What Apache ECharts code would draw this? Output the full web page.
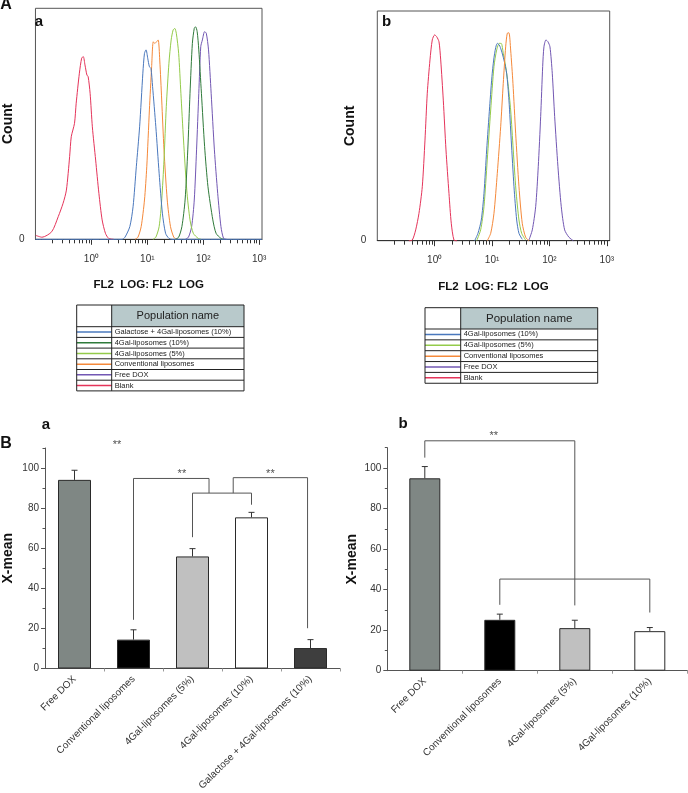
<!DOCTYPE html>
<html><head><meta charset="utf-8">
<script src="https://cdn.jsdelivr.net/npm/echarts@6/dist/echarts.min.js"></script>
<style>html,body{margin:0;padding:0;background:#fff}#c{width:688px;height:793px}</style>
</head><body><div id="c"></div>
<script>
// ================= DATA =================
// Panel A: flow-cytometry histograms. Points are [log10(FL2 LOG), count as % of frame height]
// --- A(a)
const histA_blank = [[-0.995,1.7],[-0.883,0.9],[-0.709,3.3],[-0.593,9.8],[-0.506,15.6],[-0.447,21.3],[-0.389,35.8],[-0.360,44.4],[-0.302,50.2],[-0.272,58.9],[-0.215,71.9],[-0.174,78.4],[-0.145,79.1],[-0.115,75.5],[-0.080,71.1],[-0.058,70.4],[-0.023,63.2],[0.017,48.7],[0.076,34.3],[0.134,19.9],[0.192,8.4],[0.251,2.6],[0.309,0.4],[0.40,0]];
const histA_freeDox = [[1.68,0],[1.735,0.9],[1.792,5.5],[1.839,17.0],[1.880,38.7],[1.920,63.2],[1.955,83.4],[1.984,86.3],[2.024,89.9],[2.054,89.2],[2.094,82.0],[2.141,63.2],[2.199,38.7],[2.258,19.9],[2.316,5.5],[2.363,0.4],[2.42,0]];
const histA_conventional = [[0.78,0],[0.832,0.9],[0.890,5.5],[0.949,17.0],[0.990,31.4],[1.037,56.0],[1.077,74.7],[1.106,85.5],[1.134,84.8],[1.164,85.5],[1.194,86.3],[1.222,77.6],[1.257,60.3],[1.298,38.7],[1.356,17.0],[1.414,5.5],[1.473,0.9],[1.52,0]];
const histA_gal5 = [[1.10,0],[1.152,0.9],[1.211,5.5],[1.257,17.0],[1.298,34.3],[1.339,57.4],[1.386,76.2],[1.426,86.3],[1.461,90.6],[1.490,91.3],[1.518,89.2],[1.560,80.5],[1.600,63.2],[1.647,43.0],[1.705,21.3],[1.763,8.4],[1.822,2.6],[1.909,0.4],[1.96,0]];
const histA_gal10 = [[1.50,0],[1.560,0.9],[1.618,5.5],[1.675,17.0],[1.723,38.7],[1.763,63.2],[1.805,84.8],[1.839,91.3],[1.862,92.0],[1.891,89.9],[1.920,82.0],[1.967,63.2],[2.024,40.1],[2.084,22.8],[2.171,8.4],[2.229,2.6],[2.316,0.4],[2.37,0]];
const histA_galactose = [[-1.0,0],[0.55,0],[0.600,0.9],[0.687,5.5],[0.745,14.1],[0.803,31.4],[0.862,48.7],[0.920,71.9],[0.949,80.5],[0.977,82.0],[1.007,78.4],[1.037,74.7],[1.065,74.0],[1.094,66.1],[1.152,48.7],[1.211,28.6],[1.269,11.3],[1.326,2.6],[1.386,0.4],[1.44,0],[3.05,0]];
// --- A(b)
const histB_blank = [[-0.45,0],[-0.390,0.3],[-0.331,4.7],[-0.274,11.9],[-0.216,23.5],[-0.169,43.8],[-0.129,64.2],[-0.082,78.7],[-0.042,87.4],[0.000,89.6],[0.035,88.8],[0.075,86.6],[0.105,78.7],[0.150,61.2],[0.197,39.5],[0.249,20.6],[0.289,7.6],[0.336,0.3],[0.39,0]];
const histB_freeDox = [[1.643,0.3],[1.701,4.7],[1.760,14.8],[1.805,32.2],[1.847,54.0],[1.882,75.8],[1.904,84.4],[1.939,87.4],[1.974,86.6],[2.009,84.4],[2.049,72.9],[2.091,54.0],[2.148,32.2],[2.206,14.8],[2.265,4.7],[2.340,1.5],[2.415,0]];
const histB_conventional = [[0.916,0],[0.976,3.2],[1.033,11.9],[1.091,29.3],[1.150,49.6],[1.195,68.5],[1.237,84.4],[1.265,90.3],[1.294,90.5],[1.324,83.0],[1.364,68.5],[1.411,46.8],[1.469,23.5],[1.526,7.6],[1.585,1.5],[1.643,0]];
const histB_gal5 = [[0.732,0],[0.801,4.7],[0.859,14.8],[0.916,35.1],[0.976,56.9],[1.033,75.8],[1.080,83.0],[1.126,85.9],[1.160,85.9],[1.195,81.6],[1.237,75.8],[1.277,68.5],[1.324,56.9],[1.369,39.5],[1.416,22.1],[1.469,9.0],[1.516,3.2],[1.585,0.3]];
const histB_gal10 = [[0.697,0],[0.754,3.2],[0.812,9.0],[0.859,20.6],[0.906,39.5],[0.958,58.3],[1.003,72.9],[1.045,81.6],[1.091,85.9],[1.126,85.2],[1.160,83.0],[1.207,78.7],[1.254,72.9],[1.294,61.2],[1.334,43.8],[1.382,23.5],[1.429,9.0],[1.469,3.2],[1.526,0.6]];

// Histogram axis (log10 decades) tick labels
const histDecades = [0, 1, 2, 3];
const histDecadeLabels = ['10\u2070', '10\u00B9', '10\u00B2', '10\u00B3'];

// Legend tables (population names)
const legendA_names = ['Galactose + 4Gal-liposomes (10%)', '4Gal-liposomes (10%)', '4Gal-liposomes (5%)', 'Conventional liposomes', 'Free DOX', 'Blank'];
const legendB_names = ['4Gal-liposomes (10%)', '4Gal-liposomes (5%)', 'Conventional liposomes', 'Free DOX', 'Blank'];

// Panel B: X-mean bar charts
const barA_categories = ['Free DOX', 'Conventional liposomes', '4Gal-liposomes (5%)', '4Gal-liposomes (10%)', 'Galactose + 4Gal-liposomes (10%)'];
const barA_values = [94.1, 14.4, 55.9, 75.4, 10.2];
const barA_errors = [4.8, 4.9, 3.9, 2.5, 4.2];
const barB_categories = ['Free DOX', 'Conventional liposomes', '4Gal-liposomes (5%)', '4Gal-liposomes (10%)'];
const barB_values = [94.9, 25.1, 21.0, 19.5];
const barB_errors = [5.8, 2.8, 3.9, 1.8];
const barTicks = [0, 20, 40, 60, 80, 100];
const barMinorTicks = [10, 30, 50, 70, 90, 110];

// Significance brackets: [category position, X-mean]
const bracketsA = [
  [[1, 24.3], [1, 94.8], [2.28, 94.8], [2.28, 87.5]],
  [[2, 65.5], [2, 87.5], [3, 87.5], [3, 81.7]],
  [[2.69, 87.5], [2.69, 95.2], [3.95, 95.2], [3.95, 20.1]]
];
const starsA = [[0.72, 112.7], [1.82, 97.9], [3.32, 97.9]];
const bracketsB = [
  [[0, 105.1], [0, 113.4], [2, 113.4], [2, 32.2]],
  [[1, 32.5], [1, 45.2], [3, 45.2], [3, 28.7]]
];
const starsB = [[0.92, 116.7]];

// ================= STYLE =================
const FONT = '"Liberation Sans", Arial, Helvetica, sans-serif';
const C = { blue: '#4a78bd', dkgreen: '#2f7a3a', ltgreen: '#94cb4a', orange: '#f5893a', purple: '#7257b3', red: '#e5345a' };
const legendA_colors = [C.blue, C.dkgreen, C.ltgreen, C.orange, C.purple, C.red];
const legendB_colors = [C.blue, C.ltgreen, C.orange, C.purple, C.red];
const barA_colors = ['#7f8784', '#000000', '#c0c0c0', '#ffffff', '#3e3e3e'];
const barB_colors = ['#7f8784', '#000000', '#c0c0c0', '#ffffff'];

const histMinor = [];
for (let d = -1; d < 3; d++) for (let k = 2; k <= 9; k++) histMinor.push(d + Math.log10(k));

function histX(grid, major) {
  if (major) {
    return {
      gridIndex: grid, type: 'value', min: -1, max: 3.05, position: 'bottom',
      axisLine: { onZero: false, lineStyle: { color: '#333', width: 1 } },
      axisTick: { customValues: histDecades, length: 5.5, lineStyle: { color: '#333' } },
      axisLabel: { customValues: histDecades, formatter: v => histDecadeLabels[histDecades.indexOf(Math.round(v))], fontSize: 10, color: '#333', margin: 15, fontFamily: FONT },
      splitLine: { show: false },
      name: 'FL2  LOG: FL2  LOG', nameLocation: 'middle', nameGap: 40,
      nameTextStyle: { fontSize: 11.5, fontWeight: 'bold', color: '#111', fontFamily: FONT }
    };
  }
  return {
    gridIndex: grid, type: 'value', min: -1, max: 3.05, position: 'bottom',
    axisLine: { show: false, onZero: false },
    axisTick: { customValues: histMinor, length: 4, lineStyle: { color: '#333' } },
    axisLabel: { show: false }, splitLine: { show: false }
  };
}
function histY(grid, gap) {
  return {
    gridIndex: grid, type: 'value', min: 0, max: 100, position: 'left',
    axisLine: { show: false, onZero: false }, axisTick: { show: false },
    axisLabel: { customValues: [0], fontSize: 10, color: '#333', margin: 11, fontFamily: FONT },
    splitLine: { show: false },
    name: 'Count', nameLocation: 'middle', nameGap: gap,
    nameTextStyle: { fontSize: 14, fontWeight: 'bold', color: '#111', fontFamily: FONT }
  };
}
function catX(grid, cats) {
  return {
    gridIndex: grid, type: 'category', data: cats, position: 'bottom',
    axisLine: { onZero: false, lineStyle: { color: '#555' } },
    axisTick: { alignWithLabel: true, interval: 0, length: 4, lineStyle: { color: '#555' } },
    axisLabel: { rotate: 45, interval: 0, fontSize: 10, color: '#333', margin: 9, fontFamily: FONT },
    splitLine: { show: false }
  };
}
function posX(grid, n) {
  const b = [];
  for (let i = 0; i < n; i++) b.push(i + 0.5);
  return {
    gridIndex: grid, type: 'value', min: -0.5, max: n - 0.5, position: 'bottom',
    axisLine: { show: false, onZero: false },
    axisTick: { customValues: b, length: 3, lineStyle: { color: '#999' } },
    axisLabel: { show: false }, splitLine: { show: false }
  };
}
function barY(grid, gap) {
  return {
    gridIndex: grid, type: 'value', min: 0, max: 110, position: 'left', offset: 0,
    axisLine: { show: true, onZero: false, lineStyle: { color: '#555' } },
    axisTick: { show: true, customValues: barTicks, length: 4, lineStyle: { color: '#555' } },
    axisLabel: { customValues: barTicks, fontSize: 10, color: '#333', margin: 6, fontFamily: FONT },
    splitLine: { show: false },
    name: 'X-mean', nameLocation: 'middle', nameGap: gap,
    nameTextStyle: { fontSize: 14, fontWeight: 'bold', color: '#111', fontFamily: FONT }
  };
}
function barYMinor(grid) {
  return {
    gridIndex: grid, type: 'value', min: 0, max: 110, position: 'left', offset: 0,
    axisLine: { show: false, onZero: false },
    axisTick: { show: true, customValues: barMinorTicks, length: 2.5, lineStyle: { color: '#555' } },
    axisLabel: { show: false }, splitLine: { show: false }
  };
}

const series = [];
function addHist(list, colors, xi, yi) {
  list.forEach((d, i) => series.push({
    type: 'line', xAxisIndex: xi, yAxisIndex: yi, data: d, showSymbol: false, symbol: 'none',
    smooth: 0.25, lineStyle: { color: colors[i], width: 1 }, z: 3, clip: false
  }));
}
// draw order: last listed on top
addHist([histA_blank, histA_freeDox, histA_conventional, histA_gal5, histA_gal10, histA_galactose],
  [C.red, C.purple, C.orange, C.ltgreen, C.dkgreen, C.blue], 0, 0);
addHist([histB_blank, histB_freeDox, histB_gal5, histB_gal10, histB_conventional],
  [C.red, C.purple, C.ltgreen, C.blue, C.orange], 2, 1);

function addBars(vals, errs, colors, xiCat, xiPos, yi, bw, brackets, stars) {
  series.push({
    type: 'bar', xAxisIndex: xiCat, yAxisIndex: yi, barWidth: bw,
    data: vals.map((v, i) => ({ value: v, itemStyle: { color: colors[i], borderColor: '#2a2a2a', borderWidth: 1 } })),
    z: 2
  });
  series.push({
    type: 'custom', xAxisIndex: xiCat, yAxisIndex: yi, z: 4,
    data: vals.map((v, i) => [i, v, errs[i]]),
    encode: { x: 0, y: [1, 2] },
    renderItem: (params, api) => {
      const x = api.value(0), v = api.value(1), e = api.value(2);
      const p0 = api.coord([x, v]), p1 = api.coord([x, v + e]);
      return { type: 'group', children: [
        { type: 'line', shape: { x1: p0[0], y1: p0[1], x2: p1[0], y2: p1[1] }, style: { stroke: '#333', lineWidth: 1 } },
        { type: 'line', shape: { x1: p1[0] - 3, y1: p1[1], x2: p1[0] + 3, y2: p1[1] }, style: { stroke: '#333', lineWidth: 1 } }
      ] };
    }
  });
  brackets.forEach(b => series.push({
    type: 'line', xAxisIndex: xiPos, yAxisIndex: yi, data: b, symbol: 'none', showSymbol: false,
    lineStyle: { color: '#555', width: 1 }, clip: false, z: 5, smooth: false
  }));
  series.push({
    type: 'scatter', xAxisIndex: xiPos, yAxisIndex: yi, data: stars, symbolSize: 1, clip: false,
    itemStyle: { color: 'rgba(0,0,0,0)' }, z: 6,
    label: { show: true, position: 'inside', formatter: '**', fontSize: 11, color: '#222', fontFamily: FONT, offset: [0, 2] }
  });
}
addBars(barA_values, barA_errors, barA_colors, 4, 5, 2, 33, bracketsA, starsA);
addBars(barB_values, barB_errors, barB_colors, 6, 7, 4, 31, bracketsB, starsB);

// ---- legend tables (graphic) ----
function tableGraphics(x, y, w, leftW, headerH, rowH, names, colors, headerSize) {
  const els = [];
  const h = headerH + rowH * names.length;
  els.push({ type: 'rect', shape: { x: x + leftW, y: y, width: w - leftW, height: headerH }, style: { fill: '#b8c9cb' } });
  names.forEach((n, i) => {
    const ry = y + headerH + i * rowH;
    els.push({ type: 'line', shape: { x1: x, y1: ry, x2: x + w, y2: ry }, style: { stroke: '#222', lineWidth: 1 } });
    els.push({ type: 'line', shape: { x1: x, y1: ry + rowH / 2, x2: x + leftW, y2: ry + rowH / 2 }, style: { stroke: colors[i], lineWidth: 1.5 } });
    els.push({ type: 'text', x: x + leftW + 3, y: ry + rowH / 2,
      style: { text: n, fontSize: 7.5, fontFamily: FONT, fill: '#222', align: 'left', verticalAlign: 'middle', textAlign: 'left', textVerticalAlign: 'middle' } });
  });
  els.push({ type: 'line', shape: { x1: x + leftW, y1: y, x2: x + leftW, y2: y + h }, style: { stroke: '#222', lineWidth: 1 } });
  els.push({ type: 'rect', shape: { x: x, y: y, width: w, height: h }, style: { fill: 'none', stroke: '#222', lineWidth: 1 } });
  els.push({ type: 'text', x: x + leftW + (w - leftW) / 2, y: y + headerH / 2,
    style: { text: 'Population name', fontSize: headerSize, fontFamily: FONT, fill: '#222', align: 'center', verticalAlign: 'middle', textAlign: 'center', textVerticalAlign: 'middle' } });
  return els;
}
function letter(t, x, y, size) {
  return { type: 'text', x: x, y: y, style: { text: t, fontSize: size, fontWeight: 'bold', fontFamily: FONT, fill: '#111',
    align: 'center', verticalAlign: 'middle', textAlign: 'center', textVerticalAlign: 'middle' } };
}

const graphics = [].concat(
  tableGraphics(76.7, 305, 167.3, 35, 21.7, 10.7, legendA_names, legendA_colors, 11),
  tableGraphics(425, 307.7, 172.7, 35.7, 21.3, 10.85, legendB_names, legendB_colors, 11.5),
  [letter('A', 6, 5, 16), letter('a', 39, 21.5, 15), letter('b', 386.5, 22, 15),
   letter('B', 6, 444, 16), letter('a', 46, 425, 15), letter('b', 403, 424, 15)]
);

const option = {
  animation: false,
  backgroundColor: '#fff',
  textStyle: { fontFamily: FONT },
  grid: [
    { left: 30.5, top: 8.3, width: 231.5, height: 231, show: true, borderColor: '#555', borderWidth: 1, backgroundColor: 'transparent' },
    { left: 377.3, top: 11, width: 232.4, height: 229.7, show: true, borderColor: '#555', borderWidth: 1, backgroundColor: 'transparent' },
    { left: 40, top: 448, width: 300, height: 222.7 },
    { left: 387.3, top: 447.7, width: 300, height: 223 }
  ],
  xAxis: [
    histX(0, true), histX(0, false), histX(1, true), histX(1, false),
    catX(2, barA_categories), posX(2, barA_categories.length),
    catX(3, barB_categories), posX(3, barB_categories.length)
  ],
  yAxis: [histY(0, 17), histY(1, 18), barY(2, 30), barYMinor(2), barY(3, 28), barYMinor(3)],
  series: series,
  graphic: { elements: graphics }
};

const chart = echarts.init(document.getElementById('c'), null, { renderer: 'canvas' });
chart.setOption(option);
</script>
</body></html>
